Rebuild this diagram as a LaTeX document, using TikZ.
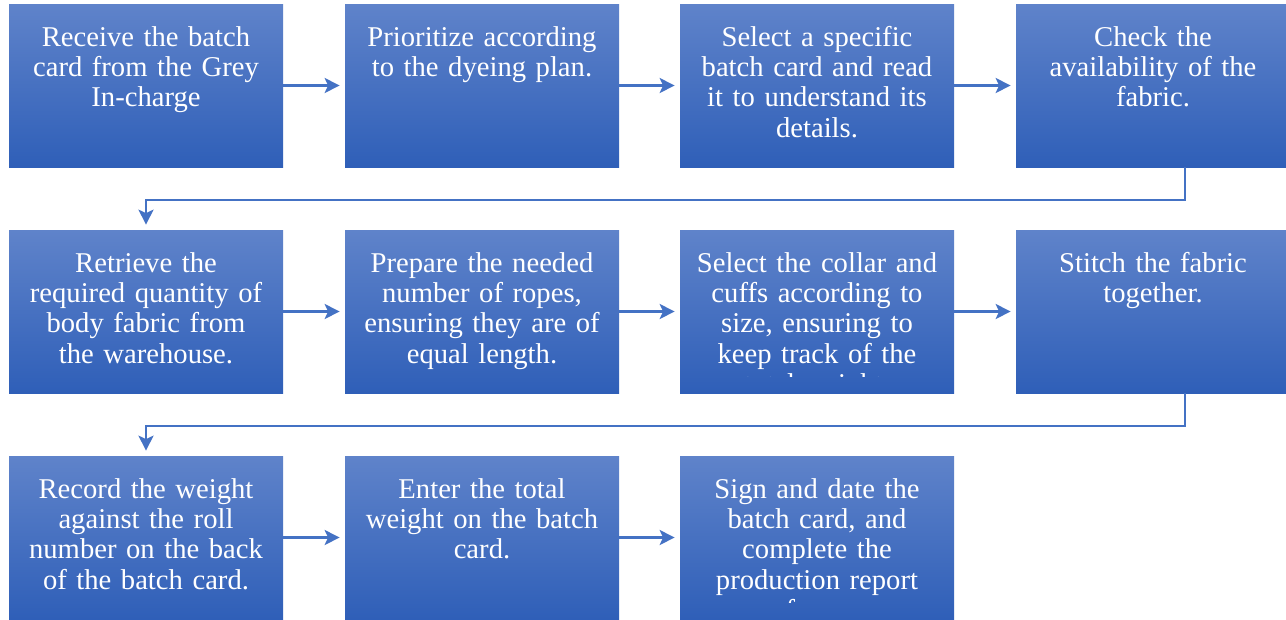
\documentclass[tikz,border=0pt]{standalone}
\usepackage{fontspec}
\setmainfont{Liberation Serif}
\usepackage{tikz}
\usetikzlibrary{arrows.meta}

\definecolor{boxtop}{HTML}{5F83CA}
\definecolor{boxmid}{HTML}{3A6DC8}
\definecolor{boxbot}{HTML}{2F5FB8}
\definecolor{linkblue}{HTML}{4472C4}

\tikzset{
    stepbox/.style={minimum width=5.48cm, minimum height=3.26cm, inner sep=0,
        top color=boxtop, middle color=boxmid, bottom color=boxbot},
    steptext/.style={text=white, text width=5.3cm, align=center, inner sep=0,
        font=\fontsize{16.3}{17.3}\selectfont},
    flow/.style={draw=linkblue, line width=1.4pt, shorten >=0.1cm,
        -{Stealth[length=0.3cm, width=0.3cm, inset=0.07cm]}}
}

% box with its text clipped a little above the bottom edge
\newcommand{\stepcell}[3]{%
    \node[stepbox] (#1) at (#2) {};
    \begin{scope}
        \clip (#1.north west) rectangle ([yshift=0.33cm]#1.south east);
        \node[steptext, anchor=north] at (#1.north) {\rule{0pt}{0.84cm}#3};
    \end{scope}}

\begin{document}
\begin{tikzpicture}
    \clip (0,0) rectangle (25.72,-12.38);

    \stepcell{b1}{2.92,-1.71}{Receive the batch\\card from the Grey\\In-charge}
    \stepcell{b2}{9.64,-1.71}{Prioritize according\\to the dyeing plan.}
    \stepcell{b3}{16.34,-1.71}{Select a specific\\batch card and read\\it to understand its\\details.}
    \stepcell{b4}{23.06,-1.71}{Check the\\availability of the\\fabric.}

    \stepcell{b5}{2.92,-6.23}{Retrieve the\\required quantity of\\body fabric from\\the warehouse.}
    \stepcell{b6}{9.64,-6.23}{Prepare the needed\\number of ropes,\\ensuring they are of\\equal length.}
    \stepcell{b7}{16.34,-6.23}{Select the collar and\\cuffs according to\\size, ensuring to\\keep track of the\\total weight.}
    \stepcell{b8}{23.06,-6.23}{Stitch the fabric\\together.}

    \stepcell{b9}{2.92,-10.75}{Record the weight\\against the roll\\number on the back\\of the batch card.}
    \stepcell{b10}{9.64,-10.75}{Enter the total\\weight on the batch\\card.}
    \stepcell{b11}{16.34,-10.75}{Sign and date the\\batch card, and\\complete the\\production report\\form.}

    \foreach \a/\b in {b1/b2, b2/b3, b3/b4, b5/b6, b6/b7, b7/b8, b9/b10, b10/b11}
        \draw[flow] (\a) -- (\b);

    \draw[flow] ([xshift=0.64cm]b4.south) -- ++(0,-0.65) -| (b5.north);
    \draw[flow] ([xshift=0.64cm]b8.south) -- ++(0,-0.65) -| (b9.north);
\end{tikzpicture}
\end{document}
